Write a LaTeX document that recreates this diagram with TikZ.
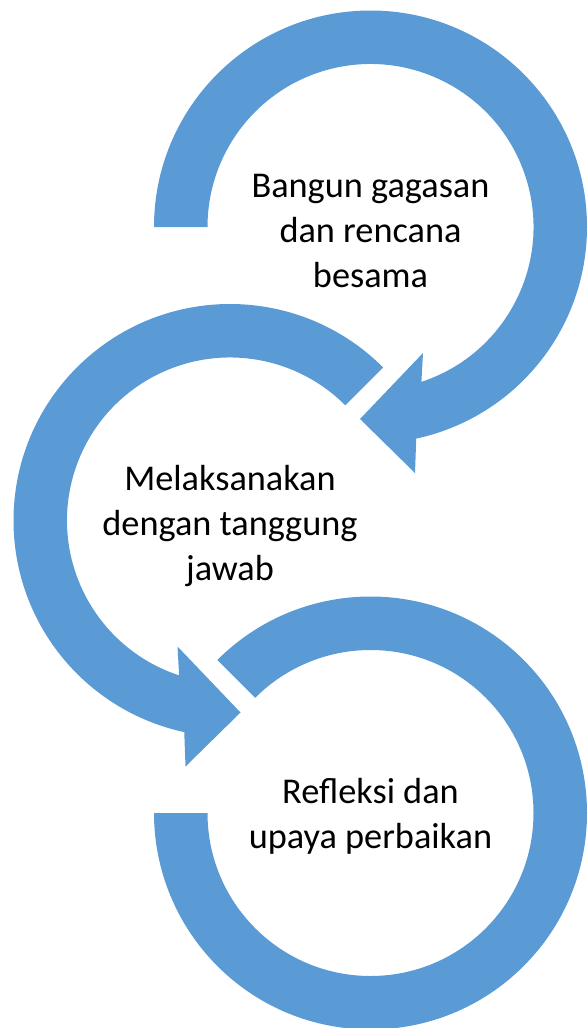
\documentclass[tikz,border=0pt]{standalone}
\usepackage{fontspec}
\setmainfont{Carlito}
\definecolor{ringblue}{HTML}{5B9BD5}
\tikzset{
  ring/.style={fill=ringblue, draw=none},
  label/.style={align=center, inner sep=0pt, font=\fontsize{36.3}{45}\selectfont, text=black}
}
\begin{document}
\begin{tikzpicture}[x=1pt,y=1pt]
\useasboundingbox (0,0) rectangle (588,-1028);
% top ring with arrowhead
\begin{scope}[shift={(370.5,-227)}]
  \coordinate (c1) at (0,0);
  \fill[ring] (180:216.5) arc[start angle=180, end angle=-77.8, radius=216.5]
     -- (44.5,-246) -- (-10.5,-192) -- (52.5,-126)
     -- (-71.8:163) arc[start angle=-71.8, end angle=180, radius=163] -- cycle;
\end{scope}
% middle ring with arrowhead
\begin{scope}[shift={(230,-520.5)}]
  \coordinate (c2) at (0,0);
  \fill[ring] (45:216.5) arc[start angle=45, end angle=257.8, radius=216.5]
     -- (-44.5,-246) -- (10.5,-192) -- (-52.5,-126)
     -- (251.8:163) arc[start angle=251.8, end angle=45, radius=163] -- cycle;
\end{scope}
% bottom ring
\begin{scope}[shift={(370.5,-813)}]
  \coordinate (c3) at (0,0);
  \fill[ring] (135:216.5) arc[start angle=135, end angle=-180, radius=216.5]
     -- (180:163) arc[start angle=-180, end angle=135, radius=163] -- cycle;
\end{scope}
\node[label, anchor=base] (t1) at (370.5,-287) {Bangun gagasan\\dan rencana\\besama};
\node[label, anchor=base] (t2) at (230,-580) {Melaksanakan\\dengan tanggung\\jawab};
\node[label, anchor=base] (t3) at (370.5,-848) {Refleksi dan\\upaya perbaikan};
\end{tikzpicture}
\end{document}
